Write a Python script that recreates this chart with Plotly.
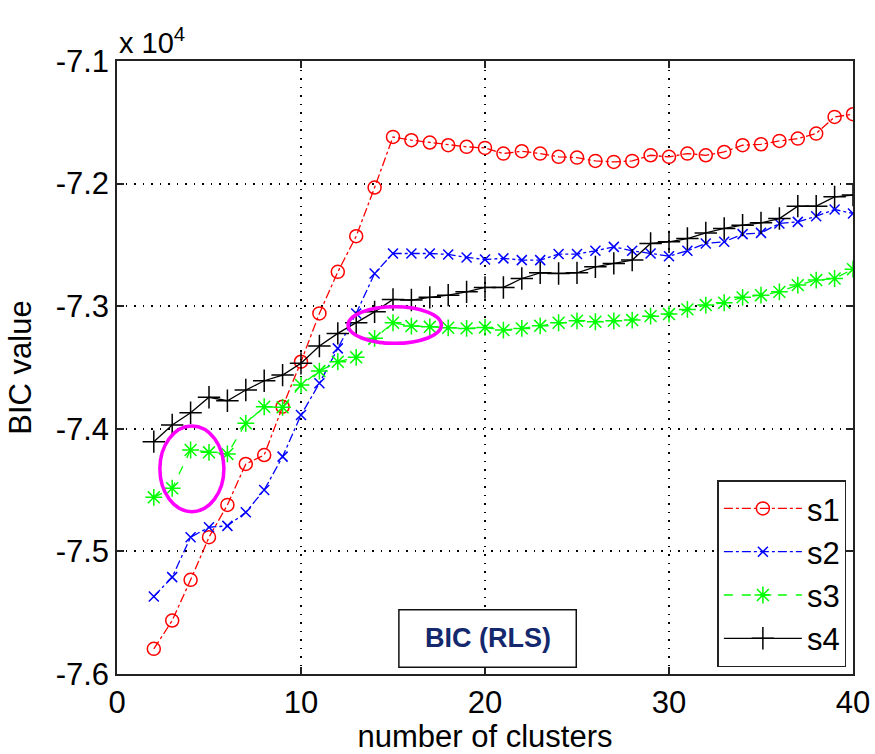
import plotly.graph_objects as go

# BIC values (in units of 1e4) for 2..40 clusters
clusters = list(range(2, 41))

s1 = [-7.5795, -7.5564, -7.5232, -7.4884, -7.4621, -7.4287, -7.4214, -7.3820, -7.3453,
      -7.3059, -7.2720, -7.2429, -7.2032, -7.1619, -7.1646, -7.1665, -7.1687, -7.1700,
      -7.1709, -7.1755, -7.1736, -7.1755, -7.1782, -7.1788, -7.1815, -7.1823, -7.1815,
      -7.1769, -7.1782, -7.1755, -7.1769, -7.1742, -7.1687, -7.1679, -7.1652, -7.1633,
      -7.1592, -7.1456, -7.1434]

s2 = [-7.5368, -7.5210, -7.4884, -7.4803, -7.4792, -7.4681, -7.4499, -7.4227, -7.3888,
      -7.3629, -7.3344, -7.3059, -7.2733, -7.2570, -7.2570, -7.2570, -7.2578, -7.2602,
      -7.2619, -7.2610, -7.2624, -7.2624, -7.2575, -7.2575, -7.2548, -7.2516, -7.2548,
      -7.2570, -7.2592, -7.2548, -7.2488, -7.2475, -7.2412, -7.2402, -7.2325, -7.2312,
      -7.2266, -7.2211, -7.2244]

s3 = [-7.4559, -7.4485, -7.4173, -7.4192, -7.4205, -7.3955, -7.3820, -7.3825, -7.3643,
      -7.3529, -7.3453, -7.3417, -7.3262, -7.3135, -7.3162, -7.3168, -7.3176, -7.3181,
      -7.3173, -7.3195, -7.3181, -7.3160, -7.3135, -7.3119, -7.3127, -7.3119, -7.3113,
      -7.3081, -7.3064, -7.3026, -7.2991, -7.2972, -7.2928, -7.2910, -7.2883, -7.2828,
      -7.2787, -7.2774, -7.2698]

s4 = [-7.4105, -7.3969, -7.3869, -7.3743, -7.3771, -7.3684, -7.3608, -7.3562, -7.3466,
      -7.3325, -7.3222, -7.3135, -7.3046, -7.2945, -7.2950, -7.2928, -7.2910, -7.2883,
      -7.2847, -7.2847, -7.2774, -7.2728, -7.2733, -7.2728, -7.2679, -7.2651, -7.2624,
      -7.2488, -7.2475, -7.2448, -7.2402, -7.2366, -7.2339, -7.2320, -7.2285, -7.2184,
      -7.2184, -7.2108, -7.2094]

y_ticks = [-7.6, -7.5, -7.4, -7.3, -7.2, -7.1]
y_tick_labels = ["-7.6", "-7.5", "-7.4", "-7.3", "-7.2", "-7.1"]
x_ticks = [0, 10, 20, 30, 40]
x_tick_labels = ["0", "10", "20", "30", "40"]

# highlighted regions (x0, x1, y0, y1)
highlights = [(2.33, 5.81, -7.4676, -7.3977), (12.56, 17.63, -7.3303, -7.3005)]

FONT = "Liberation Sans, Arial, sans-serif"

series = [
    ("s1", s1, "#ff0000", "dashdot", "circle-open", 13),
    ("s2", s2, "#0000ff", "dashdot", "x-thin-open", 10),
    ("s3", s3, "#00ff00", "dash", "asterisk-open", 14),
    ("s4", s4, "#000000", "solid", "cross-thin-open", 16),
]

fig = go.Figure()
for name, vals, color, dash, symbol, size in series:
    fig.add_trace(go.Scatter(
        x=clusters, y=vals, name=name, mode="lines+markers",
        line=dict(color=color, width=1.3, dash=dash),
        marker=dict(symbol=symbol, size=size, color=color,
                    line=dict(color=color, width=1.5)),
    ))

for x0, x1, y0, y1 in highlights:
    fig.add_shape(type="circle", xref="x", yref="y", x0=x0, x1=x1, y0=y0, y1=y1,
                  line=dict(color="#ff00ff", width=3.5))

# label box
fig.add_shape(type="rect", xref="paper", yref="paper",
              x0=0.383, x1=0.624, y0=0.011, y1=0.105,
              line=dict(color="#111111", width=1.5), fillcolor="white", layer="above")
fig.add_annotation(text="<b>BIC (RLS)</b>", xref="paper", yref="paper",
                   x=0.5035, y=0.058, xanchor="center", yanchor="middle",
                   showarrow=False,
                   font=dict(family=FONT, size=27, color="#14286e"))

# exponent label
fig.add_annotation(text="x 10<sup>4</sup>", xref="paper", yref="paper",
                   x=0.0, y=1.0, xanchor="left", yanchor="bottom", yshift=0,
                   showarrow=False, font=dict(family=FONT, size=29, color="black"))

axis_common = dict(
    showline=True, linecolor="#222222", linewidth=1.5, mirror="ticks",
    ticks="inside", ticklen=7, tickwidth=1.5, tickcolor="#222222",
    showgrid=True, gridcolor="#000000", gridwidth=1.5, griddash="1.5px,7px",
    zeroline=False, automargin=False,
    tickfont=dict(family=FONT, size=31, color="black"),
)

fig.update_xaxes(range=[0, 40], tickvals=x_ticks, ticktext=x_tick_labels,
                 title=dict(text="number of clusters",
                            font=dict(family=FONT, size=31, color="black")),
                 **axis_common)
fig.update_yaxes(range=[-7.6, -7.1], tickvals=y_ticks, ticktext=y_tick_labels,
                 title=dict(text="BIC value",
                            font=dict(family=FONT, size=31, color="black")),
                 **axis_common)

fig.update_layout(
    width=875, height=754,
    margin=dict(l=117, r=22, t=61, b=80),
    paper_bgcolor="white", plot_bgcolor="white",
    font=dict(family=FONT, color="black"),
    legend=dict(x=0.991, y=0.011, xanchor="right", yanchor="bottom",
                bgcolor="white", bordercolor="#222222", borderwidth=1.5,
                font=dict(family=FONT, size=31, color="black"),
                itemwidth=78, tracegroupgap=0),
    showlegend=True,
)

fig.write_html("out.html")
